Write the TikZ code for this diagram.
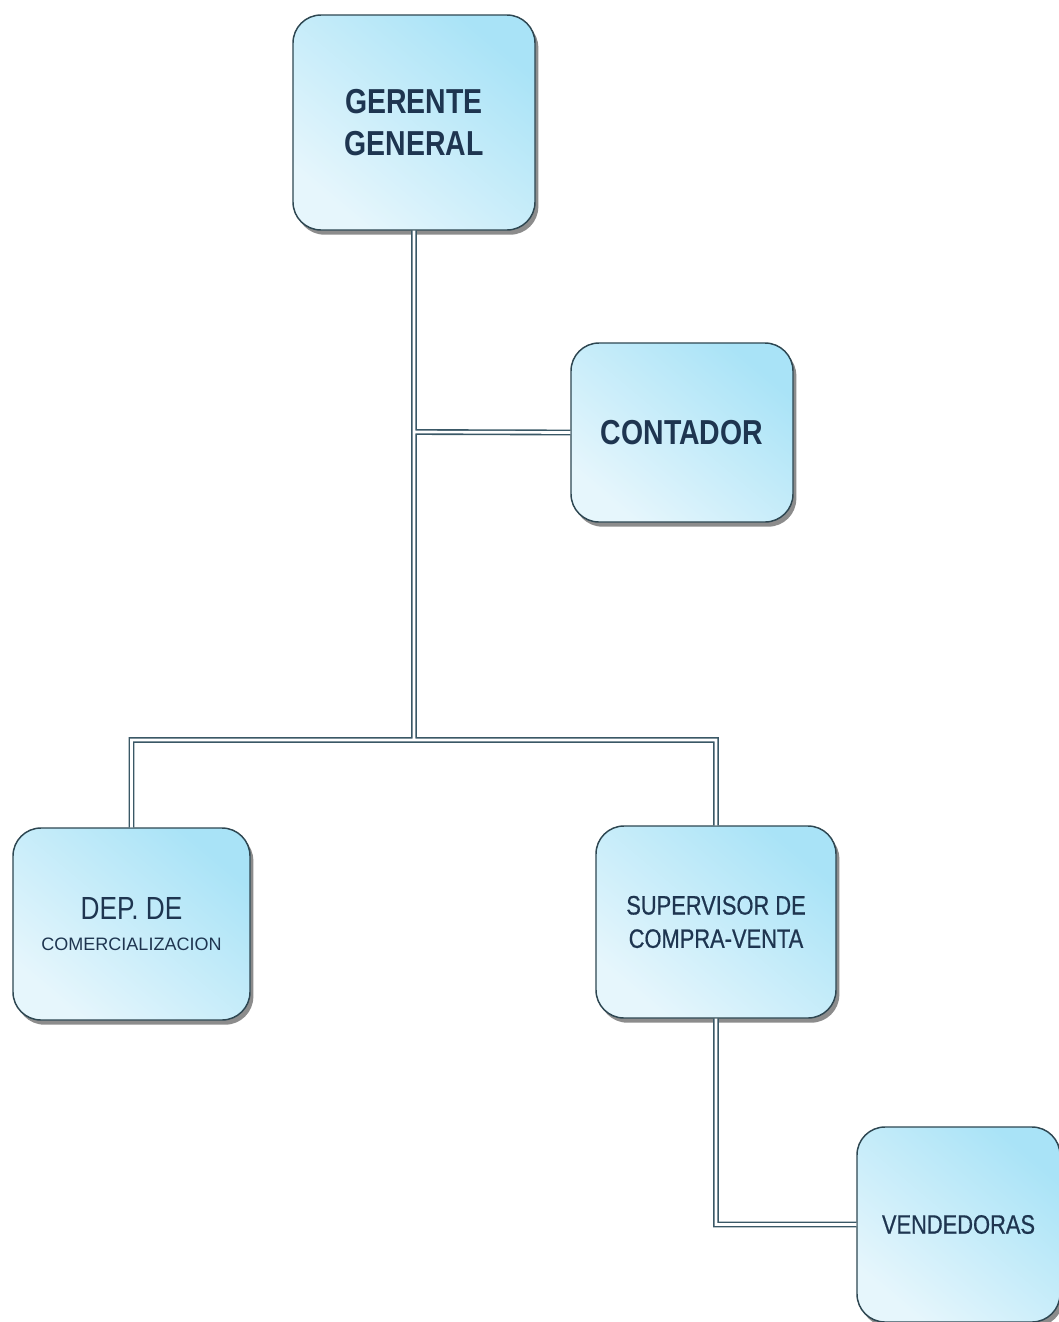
\documentclass[tikz,border=0pt]{standalone}
\usepackage{fontspec}
\setmainfont{Liberation Sans}
\newfontfamily\narrowsans[FakeStretch=0.82]{Liberation Sans}
\newfontfamily\narrowmedium[FakeStretch=0.82,FakeBold=0.6]{Liberation Sans}
\usetikzlibrary{shadows}
\definecolor{boxedge}{HTML}{2E4752}
\definecolor{boxtop}{HTML}{A9E3F7}
\definecolor{boxbottom}{HTML}{E6F6FC}
\definecolor{labelink}{HTML}{1E3550}
\definecolor{linkedge}{HTML}{3A5866}
\tikzset{
  orgbox/.style={draw=boxedge, line width=1.1pt, rounded corners=21pt,
    top color=boxtop, bottom color=boxbottom, shading angle=-40,
    drop shadow={shadow xshift=2.5pt, shadow yshift=-3.5pt, opacity=0.6, fill=black!75},
    align=center, text=labelink, inner sep=0pt},
  titlefont/.style={font=\narrowsans\bfseries\fontsize{26}{32}\selectfont},
  unitfont/.style={font=\narrowmedium\fontsize{20}{25}\selectfont},
  link/.style={draw=linkedge, line width=1.2pt, double=white, double distance=2pt, line join=miter},
}
\begin{document}
\begin{tikzpicture}[x=0.75pt, y=-0.75pt]
  \fill[white] (0,0) rectangle (1058,1322);
  \useasboundingbox (0,0) rectangle (1058,1322);

  \coordinate (jc) at (414,432);
  \coordinate (jb) at (414,740);

  \node[orgbox, titlefont, minimum width=181.5pt, minimum height=161.25pt] (gg) at (414,122.5)
    {GERENTE\\GENERAL};
  \node[orgbox, titlefont, minimum width=166.5pt, minimum height=134.25pt] (ct) at (682,432.5)
    {CONTADOR};
  \node[orgbox, font=\narrowsans\fontsize{24}{23}\selectfont,
        minimum width=177.75pt, minimum height=144pt] (dep) at (131.5,924)
    {DEP. DE\\{\normalfont\fontsize{13.5}{14}\selectfont COMERCIALIZACION}};
  \node[orgbox, unitfont, minimum width=180pt, minimum height=144pt] (sup) at (716,922)
    {SUPERVISOR DE\\COMPRA-VENTA};
  \node[orgbox, unitfont, minimum width=152.25pt, minimum height=146.25pt] (vd) at (958.5,1224.5)
    {VENDEDORAS};

  % reporting lines, one path so the double strokes merge at the joints
  \draw[link] (gg.south) -- (jb)
              (jc) -- (ct.west)
              (dep.north) |- (jb) -| (sup.north)
              (sup.south) |- (vd.west);
\end{tikzpicture}
\end{document}
